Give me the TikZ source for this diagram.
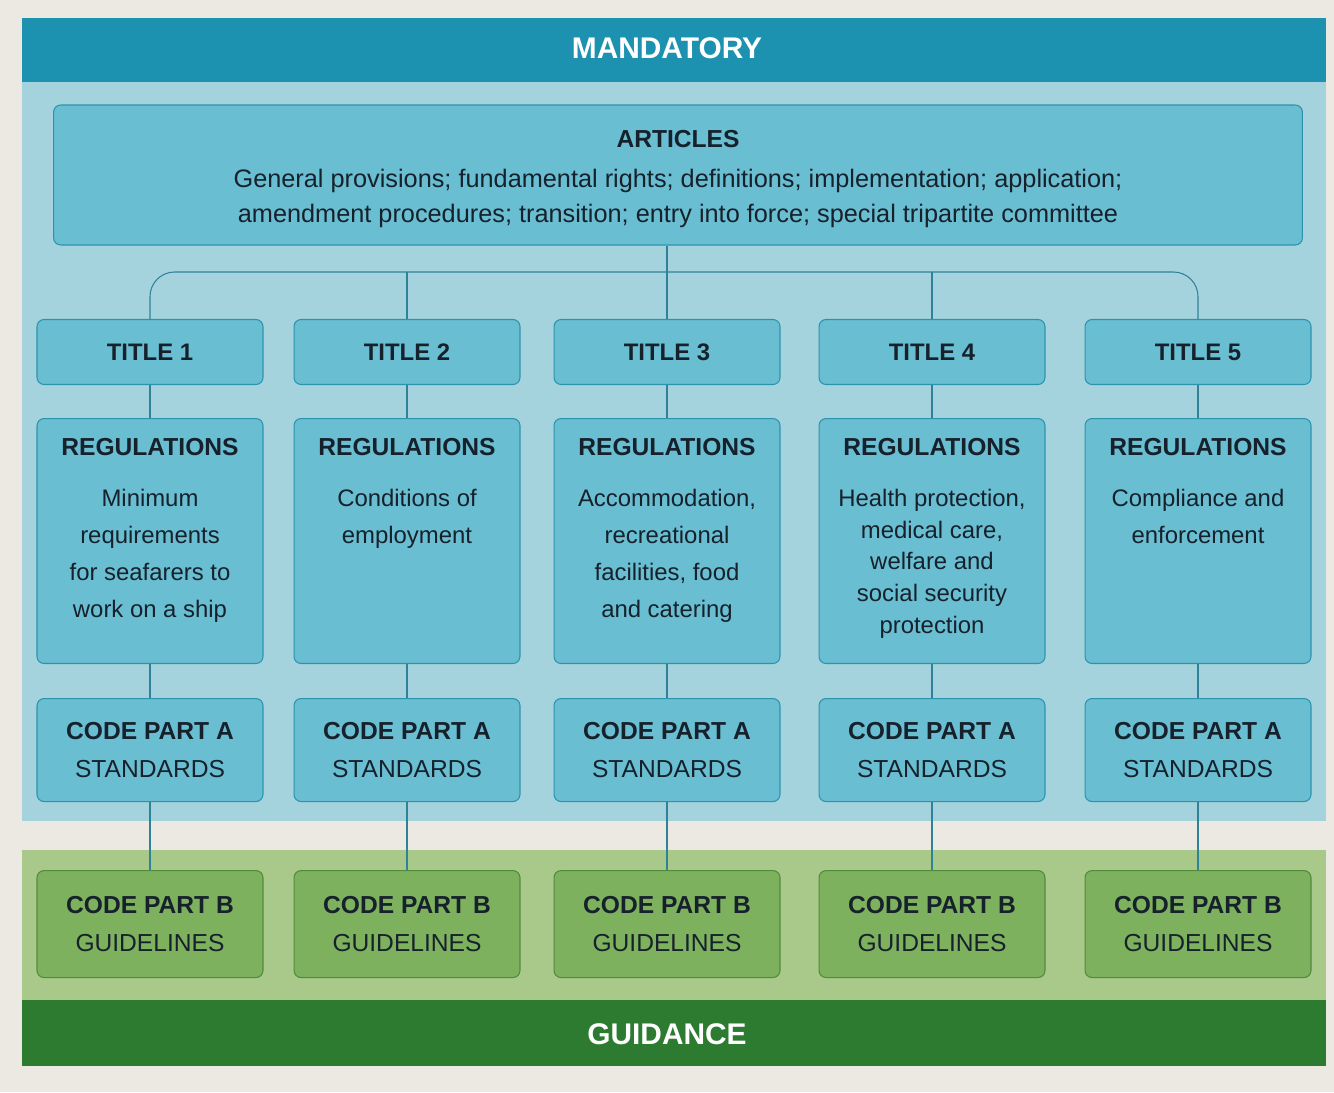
\documentclass[tikz,border=0pt]{standalone}
\usepackage{fontspec}
\setmainfont{Liberation Sans}
\usepackage{tikz}
\usetikzlibrary{positioning}
\definecolor{paper}{HTML}{ECE9E3}
\definecolor{seateal}{HTML}{1C91B0}
\definecolor{seapale}{HTML}{A5D3DD}
\definecolor{seabox}{HTML}{69BED1}
\definecolor{seaedge}{HTML}{2C93AD}
\definecolor{seaink}{HTML}{16212C}
\definecolor{leafpale}{HTML}{A9C98B}
\definecolor{leafbox}{HTML}{7DB15D}
\definecolor{leafedge}{HTML}{4F8B3B}
\definecolor{leafdark}{HTML}{2C7B30}
\definecolor{linkteal}{HTML}{2F8399}
\newcommand{\regcontent}[2]{\begin{minipage}[t][4.1cm][t]{4.3cm}\centering
  \fontsize{14}{17}\selectfont\bfseries REGULATIONS\par
  \vspace{\dimexpr 29pt-#1\relax}\fontsize{13.6}{#1}\selectfont\mdseries #2\end{minipage}}
\tikzset{
  mbox/.style={draw=seaedge, fill=seabox, rounded corners=4pt, align=center, text=seaink, inner sep=2pt, minimum width=4.52cm, line width=0.6pt},
  mboxtitle/.style={mbox, minimum height=1.3cm, font=\fontsize{13.6}{16}\selectfont\bfseries},
  mboxreg/.style={mbox, minimum height=4.9cm},
  mboxcode/.style={mbox, minimum height=2.06cm, font=\fontsize{14}{21.5}\selectfont},
  gboxcode/.style={mboxcode, draw=leafedge, fill=leafbox, minimum height=2.14cm},
  mlink/.style={draw=linkteal, line width=0.6pt},
  bandlabel/.style={text=white, font=\fontsize{17}{20}\selectfont\bfseries},
}
\begin{document}
\begin{tikzpicture}[x=0.02cm, y=-0.02cm, node distance=6mm and 10mm]
  \useasboundingbox (0,0) rectangle (1334,1092);
  \fill[paper] (0,0) rectangle (1334,1092);
  \fill[seapale] (22,82) rectangle (1326,821);
  \fill[seateal] (22,18) rectangle (1326,82);
  \fill[leafpale] (22,850) rectangle (1326,1000);
  \fill[leafdark] (22,1000) rectangle (1326,1066);
  \node[bandlabel] (mandatory) at (667,48) {MANDATORY};
  \node[bandlabel] (guidance) at (667,1034) {GUIDANCE};

  \node[mbox, minimum width=24.98cm, minimum height=2.8cm, font=\fontsize{14.4}{20}\selectfont] (articles) at (678,175) {\rule{0pt}{14.5pt}{\fontsize{14}{17}\selectfont\bfseries ARTICLES}\\[3pt]General provisions; fundamental rights; definitions; implementation; application;\\amendment procedures; transition; entry into force; special tripartite committee};

  \node[mboxtitle] (t1) at (150,352) {TITLE 1};
  \node[mboxtitle] (t2) at (407,352) {TITLE 2};
  \node[mboxtitle] (t3) at (667,352) {TITLE 3};
  \node[mboxtitle] (t4) at (932,352) {TITLE 4};
  \node[mboxtitle] (t5) at (1198,352) {TITLE 5};

  \node[mboxreg, below=0.66cm of t1] (r1) {\regcontent{21pt}{Minimum\\requirements\\for seafarers to\\work on a ship}};
  \node[mboxreg, below=0.66cm of t2] (r2) {\regcontent{21pt}{Conditions of\\employment}};
  \node[mboxreg, below=0.66cm of t3] (r3) {\regcontent{21pt}{Accommodation,\\recreational\\facilities, food\\and catering}};
  \node[mboxreg, below=0.66cm of t4] (r4) {\regcontent{18pt}{Health protection,\\medical care,\\welfare and\\social security\\protection}};
  \node[mboxreg, below=0.66cm of t5] (r5) {\regcontent{21pt}{Compliance and\\enforcement}};

  \node[mboxcode, below=0.68cm of r1] (a1) {\textbf{CODE PART A}\\STANDARDS};
  \node[mboxcode, below=0.68cm of r2] (a2) {\textbf{CODE PART A}\\STANDARDS};
  \node[mboxcode, below=0.68cm of r3] (a3) {\textbf{CODE PART A}\\STANDARDS};
  \node[mboxcode, below=0.68cm of r4] (a4) {\textbf{CODE PART A}\\STANDARDS};
  \node[mboxcode, below=0.68cm of r5] (a5) {\textbf{CODE PART A}\\STANDARDS};

  \node[gboxcode, below=1.36cm of a1] (b1) {\textbf{CODE PART B}\\GUIDELINES};
  \node[gboxcode, below=1.36cm of a2] (b2) {\textbf{CODE PART B}\\GUIDELINES};
  \node[gboxcode, below=1.36cm of a3] (b3) {\textbf{CODE PART B}\\GUIDELINES};
  \node[gboxcode, below=1.36cm of a4] (b4) {\textbf{CODE PART B}\\GUIDELINES};
  \node[gboxcode, below=1.36cm of a5] (b5) {\textbf{CODE PART B}\\GUIDELINES};

  \coordinate (bar) at (667,272);
  \draw[mlink] (articles.south -| t3.north) -- (t3.north);
  \draw[mlink, rounded corners=14pt] (t1.north) |- (bar -| t5.north) -- (t5.north);
  \draw[mlink] (t2.north) -- (t2.north |- bar);
  \draw[mlink] (t4.north) -- (t4.north |- bar);
  \foreach \i in {1,...,5}{
    \draw[mlink] (t\i.south) -- (r\i.north);
    \draw[mlink] (r\i.south) -- (a\i.north);
    \draw[mlink] (a\i.south) -- (b\i.north);
  }
\end{tikzpicture}
\end{document}
